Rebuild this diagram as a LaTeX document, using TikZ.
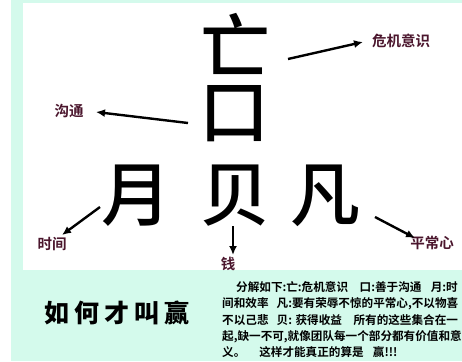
\documentclass[tikz,border=0pt]{standalone}
\usepackage{fontspec}
\usetikzlibrary{arrows.meta}
\newfontfamily\cjk{Noto Sans CJK SC Medium}
\newfontfamily\cjkbold{Noto Sans CJK SC Bold}
\newfontfamily\cjkblack{Noto Sans CJK SC Black}
\definecolor{mint}{RGB}{212,250,236}
\definecolor{lab}{RGB}{75,22,45}
\tikzset{
  big/.style={inner sep=0pt, font=\cjk\fontsize{70}{70}\selectfont},
  lbl/.style={inner sep=0pt, text=lab, font=\cjkbold\fontsize{14.5}{15}\selectfont},
  arr/.style={line width=2.4pt, -{Latex[length=9pt,width=8pt]}},
  body/.style={inner sep=0pt, anchor=base west, font=\cjkbold\fontsize{11.6}{12}\selectfont},
}
\begin{document}
\begin{tikzpicture}[x=1pt,y=-1pt]
\useasboundingbox (0,0) rectangle (462,361);
\fill[white] (0,0) rectangle (462,361);
\fill[mint] (11,0) rectangle (462,361);
\fill[white] (23,3) rectangle (462,270);

% big characters
\node[big] (wang) at (235,44) {亡};
\node[big] (kou) at (234,114) {口};
\node[big] (yue) at (136,196) {月};
\node[big] (bei) at (235,196) {贝};
\node[big] (fan) at (325,196) {凡};

% labels
\node[lbl] (wj) at (401,41) {危机意识};
\node[lbl] (gt) at (69,111) {沟通};
\node[lbl] (sj) at (52,244) {时间};
\node[lbl] (qian) at (228,264) {钱};
\node[lbl] (pcx) at (432,243) {平常心};

% arrow coordinates
\coordinate (a1) at (288,59);  \coordinate (b1) at (363,42);
\coordinate (a2) at (188,123); \coordinate (b2) at (96,112);
\coordinate (a3) at (100,207); \coordinate (b3) at (62,235);
\coordinate (a4) at (233,226); \coordinate (b4) at (233,255);
\coordinate (a5) at (375,217); \coordinate (b5) at (415,238);
\draw[arr] (a1) -- (b1);
\draw[arr] (a2) -- (b2);
\draw[arr] (a3) -- (b3);
\draw[arr] (a4) -- (b4);
\draw[arr] (a5) -- (b5);

% bottom
\node[inner sep=0pt, font=\cjkblack\fontsize{25}{25}\selectfont] (title) at (117,313)
  {如\hspace{5pt}何\hspace{5pt}才\hspace{5pt}叫\hspace{5pt}赢};
\begin{scope}
\clip (0,0) rectangle (462,361);
\node[body] (l1) at (236,291) {分解如下:亡:危机意识\hspace{1em}口:善于沟通\hspace{0.8em}月:时};
\node[body] (l2) at (222,307.5) {间和效率\hspace{0.7em}凡:要有荣辱不惊的平常心,不以物喜};
\node[body] (l3) at (222,324) {不以己悲\hspace{0.7em}贝:\hspace{0.3em}获得收益\hspace{1em}所有的这些集合在一};
\node[body] (l4) at (222,340.5) {起,缺一不可,就像团队每一个部分都有价值和意};
\node[body] (l5) at (222,356) {义。\hspace{1.2em}这样才能真正的算是\hspace{0.8em}赢!!!};
\end{scope}
\end{tikzpicture}
\end{document}
